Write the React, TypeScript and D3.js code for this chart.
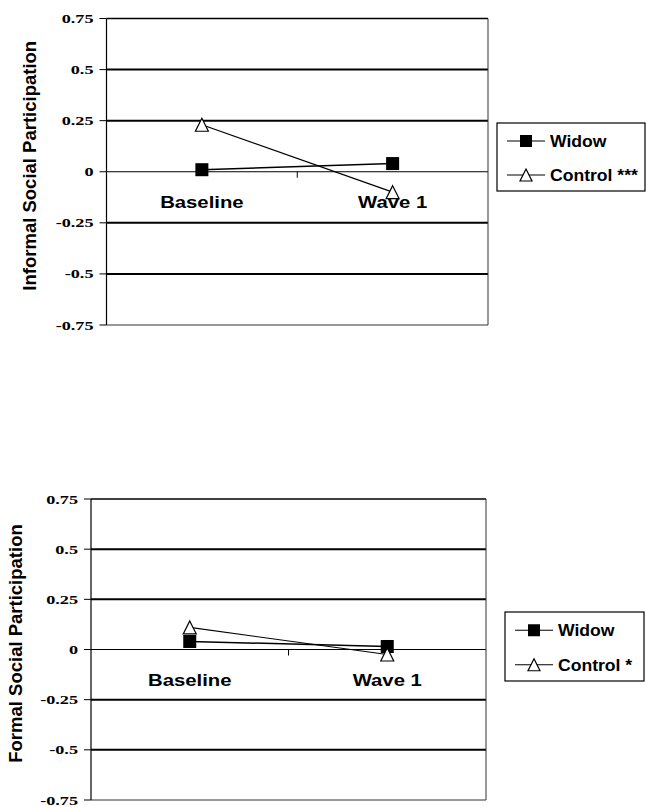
import React from 'react';
import * as d3 from 'd3';

const categories = ['Baseline', 'Wave 1'];
const yTicks = [0.75, 0.5, 0.25, 0, -0.25, -0.5, -0.75];

const informalWidow = [0.01, 0.04];
const informalControl = [0.23, -0.1];
const formalWidow = [0.04, 0.015];
const formalControl = [0.11, -0.025];

const seriesNames = ['Widow', 'Control'];

const SANS = '"Liberation Sans", Arial, Helvetica, sans-serif';
const SERIF = '"Liberation Serif", "Times New Roman", "DejaVu Serif", serif';

type Box = { left: number; right: number; top: number; bottom: number };

function Square({ x, y, s = 13 }: { x: number; y: number; s?: number }) {
  return <rect x={x - s / 2} y={y - s / 2} width={s} height={s} fill="#000" />;
}

function Triangle({ x, y, s = 13 }: { x: number; y: number; s?: number }) {
  const h = s;
  const pts = [
    [x, y - h / 2],
    [x + s / 2, y + h / 2],
    [x - s / 2, y + h / 2],
  ];
  return <polygon points={pts.map((p) => p.join(',')).join(' ')} fill="#fff" stroke="#000" strokeWidth={1.2} />;
}

function Panel({
  box,
  title,
  titleX,
  widow,
  control,
  controlLabel,
  legend,
}: {
  box: Box;
  title: string;
  titleX: number;
  widow: number[];
  control: number[];
  controlLabel: string;
  legend: { x: number; y: number; w: number; h: number };
}) {
  const y = d3.scaleLinear().domain([-0.75, 0.75]).range([box.bottom, box.top]);
  const x = d3.scaleBand<string>().domain(categories).range([box.left, box.right]);
  const cx = (c: string) => (x(c) as number) + x.bandwidth() / 2;
  const line = d3
    .line<number>()
    .x((_, i) => cx(categories[i]))
    .y((d) => y(d));

  // title sits a little above the plot's centre in the original
  const midY = (box.top + box.bottom) / 2 - 6;
  const rowH = legend.h / 2;

  return (
    <g>
      {/* gridlines */}
      {yTicks.map((t) => {
        let sw = 2;
        let col = '#000';
        if (t === 0) sw = 1.2;
        if (t === 0.75) sw = 1.5;
        if (t === -0.75) { sw = 1; col = '#333'; }
        return (
          <line key={t} x1={box.left} x2={box.right} y1={y(t)} y2={y(t)} stroke={col} strokeWidth={sw} />
        );
      })}
      {/* frame */}
      <line x1={box.right} x2={box.right} y1={box.top} y2={box.bottom} stroke="#333" strokeWidth={1} />
      <line x1={box.left} x2={box.left} y1={box.top} y2={box.bottom} stroke="#000" strokeWidth={1.2} />
      {/* y ticks and labels */}
      {yTicks.map((t) => (
        <g key={'t' + t}>
          <line x1={box.left - 7} x2={box.left} y1={y(t)} y2={y(t)} stroke="#000" strokeWidth={1} />
          <text
            transform={`translate(${box.left - 13},${y(t) + 4.5}) scale(1.4,1)`}
            textAnchor="end"
            style={{ fontFamily: SERIF, fontWeight: 'bold', fontSize: 13 }}
          >
            {String(t)}
          </text>
        </g>
      ))}
      {/* x tick between categories */}
      <line
        x1={box.left + x.bandwidth()}
        x2={box.left + x.bandwidth()}
        y1={y(0)}
        y2={y(0) + 6}
        stroke="#000"
        strokeWidth={1}
      />
      {/* category labels */}
      {categories.map((c) => (
        <text
          key={c}
          transform={`translate(${cx(c)},${y(0) + 36}) scale(1.27,1)`}
          textAnchor="middle"
          style={{ fontFamily: SANS, fontWeight: 'bold', fontSize: 16 }}
        >
          {c}
        </text>
      ))}
      {/* axis title */}
      <text
        transform={`translate(${titleX},${midY}) rotate(-90)`}
        textAnchor="middle"
        style={{ fontFamily: SANS, fontWeight: 'bold', fontSize: 18.5 }}
      >
        {title}
      </text>
      {/* series */}
      <path d={line(widow) || ''} fill="none" stroke="#000" strokeWidth={1.5} />
      <path d={line(control) || ''} fill="none" stroke="#000" strokeWidth={1.2} />
      {widow.map((v, i) => (
        <Square key={'w' + i} x={cx(categories[i])} y={y(v)} />
      ))}
      {control.map((v, i) => (
        <Triangle key={'c' + i} x={cx(categories[i])} y={y(v)} />
      ))}
      {/* legend */}
      <rect x={legend.x} y={legend.y} width={legend.w} height={legend.h} fill="#fff" stroke="#000" strokeWidth={1.2} />
      {seriesNames.map((name, i) => {
        const ly = legend.y + rowH * i + rowH / 2 + 1;
        const lx0 = legend.x + 10;
        const lx1 = lx0 + 38;
        const mx = (lx0 + lx1) / 2;
        return (
          <g key={name}>
            <line x1={lx0} x2={lx1} y1={ly} y2={ly} stroke="#000" strokeWidth={1.2} />
            {i === 0 ? <Square x={mx} y={ly} s={12} /> : <Triangle x={mx} y={ly} s={12} />}
            <text
              transform={`translate(${lx1 + 5},${ly + 6}) scale(1.1,1)`}
              style={{ fontFamily: SANS, fontWeight: 'bold', fontSize: 16 }}
            >
              {i === 0 ? name : controlLabel}
            </text>
          </g>
        );
      })}
    </g>
  );
}

export default function App() {
  return (
    <svg
      width={646}
      height={807}
      style={{ position: 'absolute', left: 0, top: 0, background: '#fff' }}
    >
      <rect width={646} height={807} fill="#fff" />
      <Panel
        box={{ left: 106.5, right: 488, top: 18.5, bottom: 325 }}
        title="Informal Social Participation"
        titleX={36}
        widow={informalWidow}
        control={informalControl}
        controlLabel="Control ***"
        legend={{ x: 497, y: 123, w: 148, h: 68 }}
      />
      <Panel
        box={{ left: 91, right: 486, top: 499, bottom: 800 }}
        title="Formal Social Participation"
        titleX={22}
        widow={formalWidow}
        control={formalControl}
        controlLabel="Control *"
        legend={{ x: 505, y: 612, w: 139, h: 69 }}
      />
    </svg>
  );
}
